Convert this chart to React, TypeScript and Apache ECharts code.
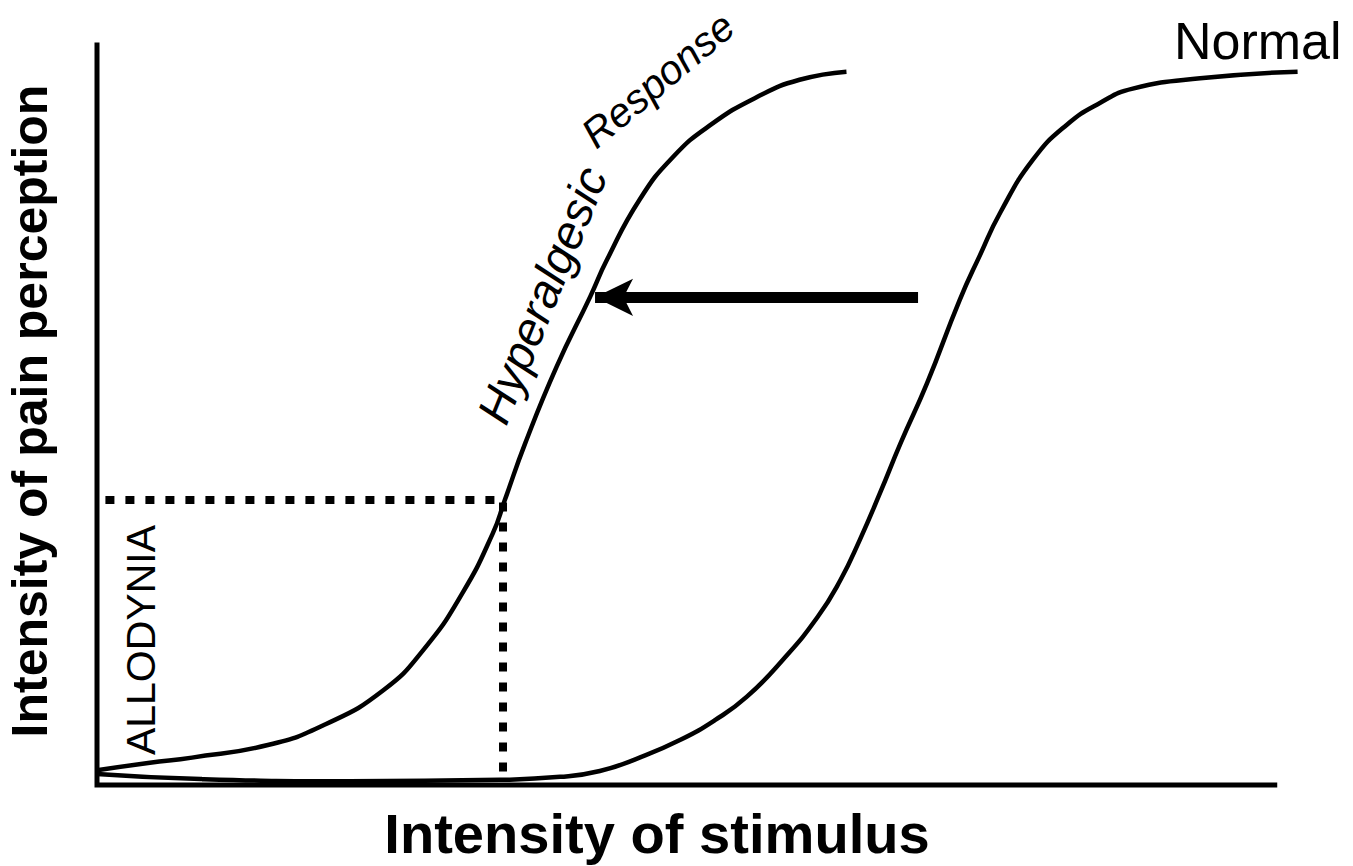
import React, { useEffect, useRef } from "react";
import * as echarts from "echarts";

// Stimulus intensity (0-100) and pain perception (0-100)
const hyperStimulus = [0, 4.4, 7.9, 14.2, 19.0, 23.8, 27.2, 30.4, 32.9, 33.9, 35.6, 38.2, 41.0, 42.4, 45.1, 47.9, 51.0, 54.9, 58.4, 62.3];
const hyperPain = [2.0, 3.0, 3.7, 5.4, 8.2, 12.8, 18.4, 26.0, 34.0, 38.5, 46.2, 56.5, 66.0, 71.0, 79.1, 84.9, 89.2, 93.0, 95.3, 96.4];

const normalStimulus = [0, 8.6, 21.0, 33.5, 38.5, 41.8, 45.1, 48.5, 51.4, 54.0, 57.0, 59.9, 61.8, 63.4, 65.1, 66.8, 69.0, 71.7, 73.4, 75.1, 77.8, 80.6, 83.4, 86.1, 91.7, 99.8];
const normalPain = [1.5, 0.8, 0.5, 0.7, 1.1, 1.9, 3.7, 6.1, 8.8, 11.9, 16.9, 22.7, 27.7, 33.1, 39.5, 46.2, 54.3, 65.5, 71.6, 77.4, 84.5, 89.2, 92.2, 94.1, 95.5, 96.4];

// Allodynia threshold guide (stimulus, pain)
const allodyniaGuide = [[0.7, 38.5], [33.75, 38.5], [33.75, 1.3]];
// Axis frame (stimulus, pain)
const axisFrame = [[0, 100], [0, 0], [97.9, 0]];
// Shift arrow from normal towards hyperalgesic (stimulus, pain)
const shiftArrow = [[68.25, 65.9], [41.4, 65.9]];

const labels = {
  xTitle: "Intensity of stimulus",
  yTitle: "Intensity of pain perception",
  normal: "Normal",
  hyper1: "Hyperalgesic",
  hyper2: "Response",
  allodynia: "ALLODYNIA",
};

const zip = (a: number[], b: number[]) => a.map((v, i) => [v, b[i]]);

const FONT = "'Liberation Sans', Arial, Helvetica, sans-serif";

function txt(text: string, x: number, y: number, size: number, opts: any = {}) {
  return {
    type: "text",
    x,
    y,
    rotation: opts.rotation || 0,
    scaleX: opts.scaleX || 1,
    silent: true,
    style: {
      text,
      fontSize: size,
      fontFamily: FONT,
      fontWeight: opts.weight || "normal",
      fontStyle: opts.style || "normal",
      fill: "#000",
      align: opts.align || "center",
      verticalAlign: "middle",
      textAlign: opts.align || "center",
      textVerticalAlign: "middle",
    },
  };
}

export default function App() {
  const ref = useRef<HTMLDivElement>(null);
  useEffect(() => {
    document.body.style.margin = "0";
    const chart = echarts.init(ref.current!, null, { renderer: "svg" });
    const black = "#000";
    chart.setOption({
      animation: false,
      backgroundColor: "#fff",
      grid: { left: 97, top: 45, width: 1203, height: 740 },
      xAxis: {
        type: "value",
        min: 0,
        max: 100,
        axisLine: { show: false },
        axisTick: { show: false },
        axisLabel: { show: false },
        splitLine: { show: false },
      },
      yAxis: {
        type: "value",
        min: 0,
        max: 100,
        axisLine: { show: false },
        axisTick: { show: false },
        axisLabel: { show: false },
        splitLine: { show: false },
      },
      series: [
        {
          type: "line",
          data: axisFrame,
          symbol: "none",
          clip: false,
          silent: true,
          lineStyle: { color: black, width: 5, cap: "square", join: "miter" },
        },
        {
          type: "line",
          data: allodyniaGuide,
          symbol: "none",
          clip: false,
          silent: true,
          lineStyle: { color: black, width: 8, type: [9, 11], cap: "butt" },
        },
        {
          type: "line",
          data: zip(normalStimulus, normalPain),
          symbol: "none",
          smooth: 0.5,
          clip: false,
          silent: true,
          lineStyle: { color: black, width: 4.5 },
        },
        {
          type: "line",
          data: zip(hyperStimulus, hyperPain),
          symbol: "none",
          smooth: 0.5,
          clip: false,
          silent: true,
          lineStyle: { color: black, width: 4.5 },
        },
        {
          type: "lines",
          coordinateSystem: "cartesian2d",
          silent: true,
          symbol: ["none", "arrow"],
          symbolSize: [1, [28, 38]],
          lineStyle: { color: black, width: 11, opacity: 1, cap: "butt" },
          itemStyle: { color: black },
          data: [{ coords: shiftArrow }],
        },
      ],
      graphic: [
        txt(labels.xTitle, 657, 834, 55, { weight: "bold", scaleX: 1.02 }),
        txt(labels.yTitle, 30, 411, 50, { weight: "bold", rotation: Math.PI / 2 }),
        txt(labels.allodynia, 141, 640, 41, { rotation: Math.PI / 2 }),
        txt(labels.normal, 1174, 41, 52, { align: "left" }),
        txt(labels.hyper1, 542, 295, 47, { style: "italic", rotation: (68 * Math.PI) / 180 }),
        txt(labels.hyper2, 658, 80, 41, { style: "italic", rotation: (40 * Math.PI) / 180 }),
      ],
    });
    return () => chart.dispose();
  }, []);
  return <div ref={ref} style={{ width: 1353, height: 866 }} />;
}
